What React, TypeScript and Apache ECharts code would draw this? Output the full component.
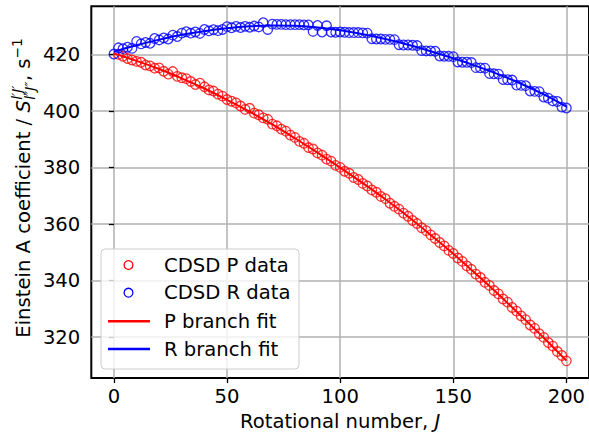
import React, { useEffect, useRef } from 'react';
import * as echarts from 'echarts';

const pJ = [2,4,6,8,10,12,14,16,18,20,22,24,26,28,30,32,34,36,38,40,42,44,46,48,50,52,54,56,58,60,62,64,66,68,70,72,74,76,78,80,82,84,86,88,90,92,94,96,98,100,102,104,106,108,110,112,114,116,118,120,122,124,126,128,130,132,134,136,138,140,142,144,146,148,150,152,154,156,158,160,162,164,166,168,170,172,174,176,178,180,182,184,186,188,190,192,194,196,198,200];
const pData = [
  420.1, 419.4, 418.6, 418.1, 417.6, 417.3, 416.3, 416.0, 415.2, 415.3,
  414.1, 413.1, 414.0, 412.3, 411.8, 411.5, 410.5, 409.4, 409.9, 408.6,
  407.5, 407.1, 406.0, 405.3, 404.1, 403.5, 402.9, 401.8, 400.6, 401.0,
  399.3, 398.7, 397.6, 397.1, 395.4, 394.8, 393.6, 392.9, 391.5, 390.7,
  389.3, 388.6, 387.1, 386.6, 385.2, 384.4, 383.0, 382.3, 380.8, 380.1,
  378.7, 378.0, 376.5, 375.8, 374.4, 373.5, 372.1, 371.3, 369.8, 369.0,
  367.4, 366.3, 365.3, 363.9, 362.8, 361.3, 360.2, 358.7, 357.7, 356.2,
  354.9, 353.5, 352.3, 350.7, 349.6, 348.0, 346.8, 345.2, 344.0, 342.3,
  341.1, 339.4, 338.3, 336.5, 335.3, 333.5, 332.4, 330.5, 329.2, 327.5,
  326.2, 324.3, 323.1, 321.2, 319.9, 318.1, 316.8, 314.9, 313.5, 311.6
];
const rJ = [0,2,4,6,8,10,12,14,16,18,20,22,24,26,28,30,32,34,36,38,40,42,44,46,48,50,52,54,56,58,60,62,64,66,68,70,72,74,76,78,80,82,84,86,88,90,92,94,96,98,100,102,104,106,108,110,112,114,116,118,120,122,124,126,128,130,132,134,136,138,140,142,144,146,148,150,152,154,156,158,160,162,164,166,168,170,172,174,176,178,180,182,184,186,188,190,192,194,196,198,200];
const rData = [
  420.2,
  422.4, 422.1, 422.6, 422.2, 424.7, 423.8, 424.3, 424.0, 425.7, 425.2,
  425.9, 425.5, 426.9, 426.4, 427.6, 428.1, 427.6, 428.0, 427.5, 428.9,
  428.4, 428.8, 428.5, 428.9, 429.9, 429.5, 430.0, 429.6, 430.0, 429.7,
  430.1, 429.8, 431.3, 428.9, 430.8, 430.7, 430.7, 430.6, 430.6, 430.6,
  430.6, 430.5, 430.5, 428.2, 430.3, 428.0, 430.2, 428.0, 427.9, 428.0,
  427.9, 427.8, 427.8, 427.8, 427.7, 427.6, 425.6, 425.5, 425.5, 425.4,
  425.4, 425.3, 423.5, 423.4, 423.4, 423.3, 423.2, 421.4, 421.3, 421.3,
  421.2, 419.5, 419.4, 419.4, 419.3, 417.4, 417.3, 417.3, 417.2, 415.4,
  415.3, 415.2, 413.3, 413.2, 413.1, 411.2, 411.1, 411.0, 409.2, 409.1,
  409.0, 407.1, 407.0, 406.9, 405.0, 404.6, 403.6, 403.4, 401.4, 401.1
];
const fitJ = [0,10,20,30,40,50,60,70,80,90,100,110,120,130,140,150,160,170,180,190,200];
const pFit = [420.4, 417.8, 414.9, 411.6, 408.0, 404.0, 399.8, 395.3, 390.4, 385.3, 380.0, 374.5, 368.8, 362.7, 356.2, 349.5, 342.4, 335.1, 327.5, 319.8, 311.7];
const rFit = [421.0, 423.3, 425.3, 427.0, 428.3, 429.3, 430.0, 430.3, 430.2, 429.6, 428.6, 427.2, 425.5, 423.5, 421.2, 418.7, 416.0, 413.0, 409.7, 405.9, 401.6];

const xTicks = [0, 50, 100, 150, 200];
const yTicks = [320, 340, 360, 380, 400, 420];
const legendNames = ['CDSD P data', 'CDSD R data', 'P branch fit', 'R branch fit'];

const FF = 'DejaVu Sans';
const FS = 19.6;

export default function App() {
  const ref = useRef<HTMLDivElement>(null);
  useEffect(() => {
    const el = ref.current!;
    const chart = echarts.init(el, null, { renderer: 'svg' });
    const ctx = document.createElement('canvas').getContext('2d')!;
    const mw = (t: string, size: number, italic = false) => {
      ctx.font = `${italic ? 'italic ' : ''}${size}px "${FF}"`;
      return ctx.measureText(t).width;
    };
    const main = FS, small = 13.7;
    const t1 = 'Einstein A coefficient / ';
    const w1 = mw(t1, main);
    const wS = mw('S', main, true);
    const wsup = mw('l′J′', small, true);
    const wsub = mw('l″J″', small, true);
    const wscr = Math.max(wsup, wsub);
    const t2 = ', s';
    const w2 = mw(t2, main);
    const wm1 = mw('−1', small);
    const total = w1 + wS + wscr + 1 + w2 + wm1;
    const startY = 188 + total / 2;
    const txt = (text: string, x: number, y: number, size: number, italic = false, extra: any = {}) => ({
      type: 'text', x, y, z: 101,
      style: {
        text, fontSize: size, fontFamily: FF, fontStyle: italic ? 'italic' : 'normal', fill: '#000',
        textAlign: 'left', textVerticalAlign: 'middle', align: 'left', verticalAlign: 'middle', ...extra,
      },
    });
    const colors = ['#ff0000', '#0000ff', '#ff0000', '#0000ff'];
    const rowY = [265, 292.7, 321.2, 349];
    const legendEls: any[] = [
      { type: 'rect', z: 100, shape: { x: 101, y: 249, width: 198, height: 120, r: 4 }, style: { fill: 'rgba(255,255,255,0.8)', stroke: '#cccccc', lineWidth: 1 } },
    ];
    legendNames.forEach((n, i) => {
      if (i < 2) {
        legendEls.push({ type: 'circle', z: 101, shape: { cx: 128.5, cy: rowY[i], r: 4.4 }, style: { fill: 'none', stroke: colors[i], lineWidth: 1.3 } });
      } else {
        legendEls.push({ type: 'line', z: 101, shape: { x1: 108, y1: rowY[i], x2: 150, y2: rowY[i] }, style: { stroke: colors[i], lineWidth: 2.5 } });
      }
      legendEls.push(txt(n, 164, rowY[i], FS));
    });

    const axisCommon = {
      axisLine: { show: false },
      axisTick: { show: true, inside: false, length: 5, lineStyle: { color: '#000', width: 1.3 } },
      splitLine: { show: true, lineStyle: { color: '#b0b0b0', width: 1.5 } },
    };

    chart.setOption({
      animation: false,
      grid: { left: 91.3, top: 6.3, width: 500, height: 372.5, show: true, borderColor: '#000', borderWidth: 2, backgroundColor: 'transparent', containLabel: false },
      xAxis: {
        type: 'value', min: -10, max: 210,
        ...axisCommon,
        axisTick: { ...axisCommon.axisTick, customValues: xTicks },
        axisLabel: { customValues: xTicks, color: '#000', fontSize: FS, fontFamily: FF, margin: 8 },
        name: 'Rotational number, {i|J}', nameLocation: 'middle', nameGap: 32,
        nameTextStyle: { color: '#000', fontSize: FS, fontFamily: FF, rich: { i: { fontStyle: 'italic', fontSize: FS, fontFamily: FF, color: '#000' } } },
      },
      yAxis: {
        type: 'value', min: 305.5, max: 437.1,
        ...axisCommon,
        axisTick: { ...axisCommon.axisTick, customValues: yTicks },
        axisLabel: { customValues: yTicks, color: '#000', fontSize: FS, fontFamily: FF, margin: 11 },
      },
      graphic: [
        {
          type: 'group', x: 23.5, y: startY, rotation: Math.PI / 2, z: 101,
          children: [
            txt(t1, 0, 0, main),
            txt('S', w1, 0, main, true),
            txt('l′J′', w1 + wS + 0.5, -6.8, small, true),
            txt('l″J″', w1 + wS + 0.5, 6.6, small, true),
            txt(t2, w1 + wS + wscr + 1, 0, main),
            txt('−1', w1 + wS + wscr + 1 + w2, -6.8, small),
          ],
        },
        ...legendEls,
      ],
      series: [
        {
          name: legendNames[0], type: 'scatter', symbol: 'circle', symbolSize: 9.5, silent: true,
          itemStyle: { color: 'rgba(0,0,0,0)', borderColor: '#ff0000', borderWidth: 1.3 },
          data: pJ.map((j, i) => [j, pData[i]]), z: 2,
        },
        {
          name: legendNames[1], type: 'scatter', symbol: 'circle', symbolSize: 9.5, silent: true,
          itemStyle: { color: 'rgba(0,0,0,0)', borderColor: '#0000ff', borderWidth: 1.3 },
          data: rJ.map((j, i) => [j, rData[i]]), z: 2,
        },
        {
          name: legendNames[2], type: 'line', showSymbol: false, symbol: 'none', smooth: 0.4, silent: true,
          lineStyle: { color: '#ff0000', width: 2 },
          data: fitJ.map((j, i) => [j, pFit[i]]), z: 3,
        },
        {
          name: legendNames[3], type: 'line', showSymbol: false, symbol: 'none', smooth: 0.4, silent: true,
          lineStyle: { color: '#0000ff', width: 2 },
          data: fitJ.map((j, i) => [j, rFit[i]]), z: 3,
        },
      ],
    });
    return () => chart.dispose();
  }, []);
  return <div ref={ref} style={{ position: 'fixed', left: 0, top: 0, width: 589, height: 436, background: '#fff' }} />;
}
